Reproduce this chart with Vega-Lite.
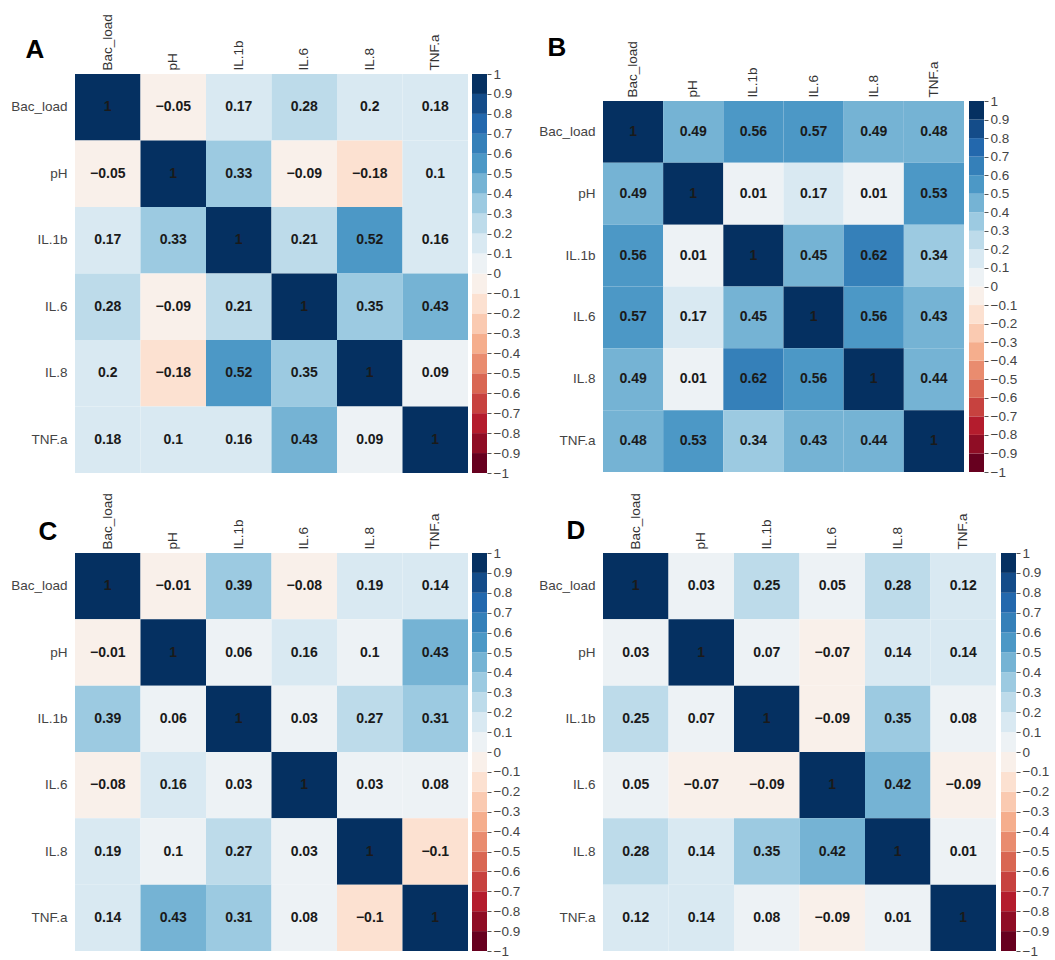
{
  "$schema": "https://vega.github.io/schema/vega-lite/v6.json",
  "background": "white",
  "padding": {"left": 10, "top": 13, "right": 2, "bottom": 0},
  "config": {"view": {"stroke": null}, "font": "Liberation Sans"},
  "datasets": {
    "bins": [
      {"lo": -1, "hi": -0.9}, {"lo": -0.9, "hi": -0.8}, {"lo": -0.8, "hi": -0.7}, {"lo": -0.7, "hi": -0.6},
      {"lo": -0.6, "hi": -0.5}, {"lo": -0.5, "hi": -0.4}, {"lo": -0.4, "hi": -0.3}, {"lo": -0.3, "hi": -0.2},
      {"lo": -0.2, "hi": -0.1}, {"lo": -0.1, "hi": 0}, {"lo": 0, "hi": 0.1}, {"lo": 0.1, "hi": 0.2},
      {"lo": 0.2, "hi": 0.3}, {"lo": 0.3, "hi": 0.4}, {"lo": 0.4, "hi": 0.5}, {"lo": 0.5, "hi": 0.6},
      {"lo": 0.6, "hi": 0.7}, {"lo": 0.7, "hi": 0.8}, {"lo": 0.8, "hi": 0.9}, {"lo": 0.9, "hi": 1}
    ],
    "A": [
      {"row": "Bac_load", "col": "Bac_load", "r": 1}, {"row": "Bac_load", "col": "pH", "r": -0.05}, {"row": "Bac_load", "col": "IL.1b", "r": 0.17}, {"row": "Bac_load", "col": "IL.6", "r": 0.28}, {"row": "Bac_load", "col": "IL.8", "r": 0.196}, {"row": "Bac_load", "col": "TNF.a", "r": 0.18},
      {"row": "pH", "col": "Bac_load", "r": -0.05}, {"row": "pH", "col": "pH", "r": 1}, {"row": "pH", "col": "IL.1b", "r": 0.33}, {"row": "pH", "col": "IL.6", "r": -0.09}, {"row": "pH", "col": "IL.8", "r": -0.18}, {"row": "pH", "col": "TNF.a", "r": 0.1},
      {"row": "IL.1b", "col": "Bac_load", "r": 0.17}, {"row": "IL.1b", "col": "pH", "r": 0.33}, {"row": "IL.1b", "col": "IL.1b", "r": 1}, {"row": "IL.1b", "col": "IL.6", "r": 0.21}, {"row": "IL.1b", "col": "IL.8", "r": 0.52}, {"row": "IL.1b", "col": "TNF.a", "r": 0.16},
      {"row": "IL.6", "col": "Bac_load", "r": 0.28}, {"row": "IL.6", "col": "pH", "r": -0.09}, {"row": "IL.6", "col": "IL.1b", "r": 0.21}, {"row": "IL.6", "col": "IL.6", "r": 1}, {"row": "IL.6", "col": "IL.8", "r": 0.35}, {"row": "IL.6", "col": "TNF.a", "r": 0.43},
      {"row": "IL.8", "col": "Bac_load", "r": 0.196}, {"row": "IL.8", "col": "pH", "r": -0.18}, {"row": "IL.8", "col": "IL.1b", "r": 0.52}, {"row": "IL.8", "col": "IL.6", "r": 0.35}, {"row": "IL.8", "col": "IL.8", "r": 1}, {"row": "IL.8", "col": "TNF.a", "r": 0.09},
      {"row": "TNF.a", "col": "Bac_load", "r": 0.18}, {"row": "TNF.a", "col": "pH", "r": 0.1}, {"row": "TNF.a", "col": "IL.1b", "r": 0.16}, {"row": "TNF.a", "col": "IL.6", "r": 0.43}, {"row": "TNF.a", "col": "IL.8", "r": 0.09}, {"row": "TNF.a", "col": "TNF.a", "r": 1}
    ],
    "B": [
      {"row": "Bac_load", "col": "Bac_load", "r": 1}, {"row": "Bac_load", "col": "pH", "r": 0.49}, {"row": "Bac_load", "col": "IL.1b", "r": 0.56}, {"row": "Bac_load", "col": "IL.6", "r": 0.57}, {"row": "Bac_load", "col": "IL.8", "r": 0.49}, {"row": "Bac_load", "col": "TNF.a", "r": 0.48},
      {"row": "pH", "col": "Bac_load", "r": 0.49}, {"row": "pH", "col": "pH", "r": 1}, {"row": "pH", "col": "IL.1b", "r": 0.01}, {"row": "pH", "col": "IL.6", "r": 0.17}, {"row": "pH", "col": "IL.8", "r": 0.01}, {"row": "pH", "col": "TNF.a", "r": 0.53},
      {"row": "IL.1b", "col": "Bac_load", "r": 0.56}, {"row": "IL.1b", "col": "pH", "r": 0.01}, {"row": "IL.1b", "col": "IL.1b", "r": 1}, {"row": "IL.1b", "col": "IL.6", "r": 0.45}, {"row": "IL.1b", "col": "IL.8", "r": 0.62}, {"row": "IL.1b", "col": "TNF.a", "r": 0.34},
      {"row": "IL.6", "col": "Bac_load", "r": 0.57}, {"row": "IL.6", "col": "pH", "r": 0.17}, {"row": "IL.6", "col": "IL.1b", "r": 0.45}, {"row": "IL.6", "col": "IL.6", "r": 1}, {"row": "IL.6", "col": "IL.8", "r": 0.56}, {"row": "IL.6", "col": "TNF.a", "r": 0.43},
      {"row": "IL.8", "col": "Bac_load", "r": 0.49}, {"row": "IL.8", "col": "pH", "r": 0.01}, {"row": "IL.8", "col": "IL.1b", "r": 0.62}, {"row": "IL.8", "col": "IL.6", "r": 0.56}, {"row": "IL.8", "col": "IL.8", "r": 1}, {"row": "IL.8", "col": "TNF.a", "r": 0.44},
      {"row": "TNF.a", "col": "Bac_load", "r": 0.48}, {"row": "TNF.a", "col": "pH", "r": 0.53}, {"row": "TNF.a", "col": "IL.1b", "r": 0.34}, {"row": "TNF.a", "col": "IL.6", "r": 0.43}, {"row": "TNF.a", "col": "IL.8", "r": 0.44}, {"row": "TNF.a", "col": "TNF.a", "r": 1}
    ],
    "C": [
      {"row": "Bac_load", "col": "Bac_load", "r": 1}, {"row": "Bac_load", "col": "pH", "r": -0.01}, {"row": "Bac_load", "col": "IL.1b", "r": 0.39}, {"row": "Bac_load", "col": "IL.6", "r": -0.08}, {"row": "Bac_load", "col": "IL.8", "r": 0.19}, {"row": "Bac_load", "col": "TNF.a", "r": 0.14},
      {"row": "pH", "col": "Bac_load", "r": -0.01}, {"row": "pH", "col": "pH", "r": 1}, {"row": "pH", "col": "IL.1b", "r": 0.06}, {"row": "pH", "col": "IL.6", "r": 0.16}, {"row": "pH", "col": "IL.8", "r": 0.097}, {"row": "pH", "col": "TNF.a", "r": 0.43},
      {"row": "IL.1b", "col": "Bac_load", "r": 0.39}, {"row": "IL.1b", "col": "pH", "r": 0.06}, {"row": "IL.1b", "col": "IL.1b", "r": 1}, {"row": "IL.1b", "col": "IL.6", "r": 0.03}, {"row": "IL.1b", "col": "IL.8", "r": 0.27}, {"row": "IL.1b", "col": "TNF.a", "r": 0.31},
      {"row": "IL.6", "col": "Bac_load", "r": -0.08}, {"row": "IL.6", "col": "pH", "r": 0.16}, {"row": "IL.6", "col": "IL.1b", "r": 0.03}, {"row": "IL.6", "col": "IL.6", "r": 1}, {"row": "IL.6", "col": "IL.8", "r": 0.03}, {"row": "IL.6", "col": "TNF.a", "r": 0.08},
      {"row": "IL.8", "col": "Bac_load", "r": 0.19}, {"row": "IL.8", "col": "pH", "r": 0.097}, {"row": "IL.8", "col": "IL.1b", "r": 0.27}, {"row": "IL.8", "col": "IL.6", "r": 0.03}, {"row": "IL.8", "col": "IL.8", "r": 1}, {"row": "IL.8", "col": "TNF.a", "r": -0.104},
      {"row": "TNF.a", "col": "Bac_load", "r": 0.14}, {"row": "TNF.a", "col": "pH", "r": 0.43}, {"row": "TNF.a", "col": "IL.1b", "r": 0.31}, {"row": "TNF.a", "col": "IL.6", "r": 0.08}, {"row": "TNF.a", "col": "IL.8", "r": -0.104}, {"row": "TNF.a", "col": "TNF.a", "r": 1}
    ],
    "D": [
      {"row": "Bac_load", "col": "Bac_load", "r": 1}, {"row": "Bac_load", "col": "pH", "r": 0.03}, {"row": "Bac_load", "col": "IL.1b", "r": 0.25}, {"row": "Bac_load", "col": "IL.6", "r": 0.05}, {"row": "Bac_load", "col": "IL.8", "r": 0.28}, {"row": "Bac_load", "col": "TNF.a", "r": 0.12},
      {"row": "pH", "col": "Bac_load", "r": 0.03}, {"row": "pH", "col": "pH", "r": 1}, {"row": "pH", "col": "IL.1b", "r": 0.07}, {"row": "pH", "col": "IL.6", "r": -0.07}, {"row": "pH", "col": "IL.8", "r": 0.14}, {"row": "pH", "col": "TNF.a", "r": 0.14},
      {"row": "IL.1b", "col": "Bac_load", "r": 0.25}, {"row": "IL.1b", "col": "pH", "r": 0.07}, {"row": "IL.1b", "col": "IL.1b", "r": 1}, {"row": "IL.1b", "col": "IL.6", "r": -0.09}, {"row": "IL.1b", "col": "IL.8", "r": 0.35}, {"row": "IL.1b", "col": "TNF.a", "r": 0.08},
      {"row": "IL.6", "col": "Bac_load", "r": 0.05}, {"row": "IL.6", "col": "pH", "r": -0.07}, {"row": "IL.6", "col": "IL.1b", "r": -0.09}, {"row": "IL.6", "col": "IL.6", "r": 1}, {"row": "IL.6", "col": "IL.8", "r": 0.42}, {"row": "IL.6", "col": "TNF.a", "r": -0.09},
      {"row": "IL.8", "col": "Bac_load", "r": 0.28}, {"row": "IL.8", "col": "pH", "r": 0.14}, {"row": "IL.8", "col": "IL.1b", "r": 0.35}, {"row": "IL.8", "col": "IL.6", "r": 0.42}, {"row": "IL.8", "col": "IL.8", "r": 1}, {"row": "IL.8", "col": "TNF.a", "r": 0.01},
      {"row": "TNF.a", "col": "Bac_load", "r": 0.12}, {"row": "TNF.a", "col": "pH", "r": 0.14}, {"row": "TNF.a", "col": "IL.1b", "r": 0.08}, {"row": "TNF.a", "col": "IL.6", "r": -0.09}, {"row": "TNF.a", "col": "IL.8", "r": 0.01}, {"row": "TNF.a", "col": "TNF.a", "r": 1}
    ]
  },
  "columns": 2,
  "bounds": "flush",
  "align": "all",
  "spacing": {"row": 80, "column": 135},
  "concat": [
    {
      "width": 393, "height": 399,
      "layer": [
        {
          "data": {"name": "A"},
          "encoding": {
            "x": {"field": "col", "type": "nominal", "sort": ["Bac_load", "pH", "IL.1b", "IL.6", "IL.8", "TNF.a"], "scale": {"paddingInner": 0, "paddingOuter": 0},
              "axis": {"orient": "top", "title": null, "labelAngle": -90, "labelAlign": "left", "labelBaseline": "middle", "labelPadding": 4, "ticks": false, "domain": false, "labelFontSize": 13.5, "labelColor": "#333", "labelFont": "Liberation Sans"}},
            "y": {"field": "row", "type": "nominal", "sort": ["Bac_load", "pH", "IL.1b", "IL.6", "IL.8", "TNF.a"], "scale": {"paddingInner": 0, "paddingOuter": 0},
              "axis": {"orient": "left", "title": "A", "titleAngle": 0, "titleX": -50, "titleY": -17, "titleAlign": "left", "titleBaseline": "alphabetic", "titleFontSize": 26, "titleFontWeight": "bold", "titleColor": "#000", "titleFont": "Liberation Sans", "labelPadding": 8, "ticks": false, "domain": false, "labelFontSize": 13.5, "labelColor": "#444", "labelFont": "Liberation Sans"}}
          },
          "layer": [
            {"mark": {"type": "rect"}, "encoding": {"color": {"field": "r", "type": "quantitative", "legend": null,
              "scale": {"type": "threshold", "domain": [-0.9, -0.8, -0.7, -0.6, -0.5, -0.4, -0.3, -0.2, -0.1, 0, 0.1, 0.2, 0.3, 0.4, 0.5, 0.6, 0.7, 0.8, 0.9],
                "range": ["#67001f", "#8f0d25", "#b41c2d", "#c7423f", "#d96753", "#e98c6f", "#f5ae8d", "#facab1", "#fce1d1", "#f9f0ea", "#edf2f5", "#d9e9f2", "#bddbea", "#9ccae1", "#75b3d4", "#4c98c6", "#3580b9", "#2368ad", "#144c89", "#053061"]}}}},
            {"mark": {"type": "text", "font": "Liberation Sans", "fontSize": 14, "fontWeight": "bold", "color": "#1a1a1a"}, "encoding": {"text": {"field": "r", "type": "quantitative", "format": ".2~f"}}}
          ]
        },
        {
          "data": {"name": "bins"},
          "mark": {"type": "rect"},
          "encoding": {
            "x": {"datum": 0, "type": "quantitative", "scale": {"domain": [0, 1], "range": [397, 412]}, "axis": null},
            "x2": {"datum": 1},
            "y": {"field": "lo", "type": "quantitative", "scale": {"domain": [-1, 1], "range": [399, 0]},
              "axis": {"orient": "right", "offset": 19, "title": null, "values": [-1, -0.9, -0.8, -0.7, -0.6, -0.5, -0.4, -0.3, -0.2, -0.1, 0, 0.1, 0.2, 0.3, 0.4, 0.5, 0.6, 0.7, 0.8, 0.9, 1], "format": ".1~f", "labelOverlap": false, "labelFlush": false, "domain": false, "grid": false, "tickSize": 4, "tickColor": "#555", "labelPadding": 2, "labelFontSize": 13.5, "labelColor": "#444", "labelFont": "Liberation Sans"}},
            "y2": {"field": "hi"},
            "color": {"field": "lo", "type": "quantitative", "legend": null,
              "scale": {"type": "threshold", "domain": [-0.9, -0.8, -0.7, -0.6, -0.5, -0.4, -0.3, -0.2, -0.1, 0, 0.1, 0.2, 0.3, 0.4, 0.5, 0.6, 0.7, 0.8, 0.9],
                "range": ["#67001f", "#8f0d25", "#b41c2d", "#c7423f", "#d96753", "#e98c6f", "#f5ae8d", "#facab1", "#fce1d1", "#f9f0ea", "#edf2f5", "#d9e9f2", "#bddbea", "#9ccae1", "#75b3d4", "#4c98c6", "#3580b9", "#2368ad", "#144c89", "#053061"]}}
          }
        }
      ],
      "resolve": {"scale": {"x": "independent", "y": "independent"}, "axis": {"x": "independent", "y": "independent"}}
    },
    {
      "width": 361, "height": 399,
      "layer": [
        {
          "data": {"name": "B"},
          "encoding": {
            "x": {"field": "col", "type": "nominal", "sort": ["Bac_load", "pH", "IL.1b", "IL.6", "IL.8", "TNF.a"], "scale": {"paddingInner": 0, "paddingOuter": 0},
              "axis": {"orient": "top", "offset": -27, "title": null, "labelAngle": -90, "labelAlign": "left", "labelBaseline": "middle", "labelPadding": 4, "ticks": false, "domain": false, "labelFontSize": 13.5, "labelColor": "#333", "labelFont": "Liberation Sans"}},
            "y": {"field": "row", "type": "nominal", "sort": ["Bac_load", "pH", "IL.1b", "IL.6", "IL.8", "TNF.a"], "scale": {"range": [27, 398], "paddingInner": 0, "paddingOuter": 0},
              "axis": {"orient": "left", "title": "B", "titleAngle": 0, "titleX": -56, "titleY": -19, "titleAlign": "left", "titleBaseline": "alphabetic", "titleFontSize": 26, "titleFontWeight": "bold", "titleColor": "#000", "titleFont": "Liberation Sans", "labelPadding": 8, "ticks": false, "domain": false, "labelFontSize": 13.5, "labelColor": "#444", "labelFont": "Liberation Sans"}}
          },
          "layer": [
            {"mark": {"type": "rect"}, "encoding": {"color": {"field": "r", "type": "quantitative", "legend": null,
              "scale": {"type": "threshold", "domain": [-0.9, -0.8, -0.7, -0.6, -0.5, -0.4, -0.3, -0.2, -0.1, 0, 0.1, 0.2, 0.3, 0.4, 0.5, 0.6, 0.7, 0.8, 0.9],
                "range": ["#67001f", "#8f0d25", "#b41c2d", "#c7423f", "#d96753", "#e98c6f", "#f5ae8d", "#facab1", "#fce1d1", "#f9f0ea", "#edf2f5", "#d9e9f2", "#bddbea", "#9ccae1", "#75b3d4", "#4c98c6", "#3580b9", "#2368ad", "#144c89", "#053061"]}}}},
            {"mark": {"type": "text", "font": "Liberation Sans", "fontSize": 14, "fontWeight": "bold", "color": "#1a1a1a"}, "encoding": {"text": {"field": "r", "type": "quantitative", "format": ".2~f"}}}
          ]
        },
        {
          "data": {"name": "bins"},
          "mark": {"type": "rect"},
          "encoding": {
            "x": {"datum": 0, "type": "quantitative", "scale": {"domain": [0, 1], "range": [366, 381]}, "axis": null},
            "x2": {"datum": 1},
            "y": {"field": "lo", "type": "quantitative", "scale": {"domain": [-1, 1], "range": [398, 27]},
              "axis": {"orient": "right", "offset": 20, "title": null, "values": [-1, -0.9, -0.8, -0.7, -0.6, -0.5, -0.4, -0.3, -0.2, -0.1, 0, 0.1, 0.2, 0.3, 0.4, 0.5, 0.6, 0.7, 0.8, 0.9, 1], "format": ".1~f", "labelOverlap": false, "labelFlush": false, "domain": false, "grid": false, "tickSize": 4, "tickColor": "#555", "labelPadding": 2, "labelFontSize": 13.5, "labelColor": "#444", "labelFont": "Liberation Sans"}},
            "y2": {"field": "hi"},
            "color": {"field": "lo", "type": "quantitative", "legend": null,
              "scale": {"type": "threshold", "domain": [-0.9, -0.8, -0.7, -0.6, -0.5, -0.4, -0.3, -0.2, -0.1, 0, 0.1, 0.2, 0.3, 0.4, 0.5, 0.6, 0.7, 0.8, 0.9],
                "range": ["#67001f", "#8f0d25", "#b41c2d", "#c7423f", "#d96753", "#e98c6f", "#f5ae8d", "#facab1", "#fce1d1", "#f9f0ea", "#edf2f5", "#d9e9f2", "#bddbea", "#9ccae1", "#75b3d4", "#4c98c6", "#3580b9", "#2368ad", "#144c89", "#053061"]}}
          }
        }
      ],
      "resolve": {"scale": {"x": "independent", "y": "independent"}, "axis": {"x": "independent", "y": "independent"}}
    },
    {
      "width": 393, "height": 398,
      "layer": [
        {
          "data": {"name": "C"},
          "encoding": {
            "x": {"field": "col", "type": "nominal", "sort": ["Bac_load", "pH", "IL.1b", "IL.6", "IL.8", "TNF.a"], "scale": {"paddingInner": 0, "paddingOuter": 0},
              "axis": {"orient": "top", "title": null, "labelAngle": -90, "labelAlign": "left", "labelBaseline": "middle", "labelPadding": 4, "ticks": false, "domain": false, "labelFontSize": 13.5, "labelColor": "#333", "labelFont": "Liberation Sans"}},
            "y": {"field": "row", "type": "nominal", "sort": ["Bac_load", "pH", "IL.1b", "IL.6", "IL.8", "TNF.a"], "scale": {"paddingInner": 0, "paddingOuter": 0},
              "axis": {"orient": "left", "title": "C", "titleAngle": 0, "titleX": -37, "titleY": -14, "titleAlign": "left", "titleBaseline": "alphabetic", "titleFontSize": 26, "titleFontWeight": "bold", "titleColor": "#000", "titleFont": "Liberation Sans", "labelPadding": 8, "ticks": false, "domain": false, "labelFontSize": 13.5, "labelColor": "#444", "labelFont": "Liberation Sans"}}
          },
          "layer": [
            {"mark": {"type": "rect"}, "encoding": {"color": {"field": "r", "type": "quantitative", "legend": null,
              "scale": {"type": "threshold", "domain": [-0.9, -0.8, -0.7, -0.6, -0.5, -0.4, -0.3, -0.2, -0.1, 0, 0.1, 0.2, 0.3, 0.4, 0.5, 0.6, 0.7, 0.8, 0.9],
                "range": ["#67001f", "#8f0d25", "#b41c2d", "#c7423f", "#d96753", "#e98c6f", "#f5ae8d", "#facab1", "#fce1d1", "#f9f0ea", "#edf2f5", "#d9e9f2", "#bddbea", "#9ccae1", "#75b3d4", "#4c98c6", "#3580b9", "#2368ad", "#144c89", "#053061"]}}}},
            {"mark": {"type": "text", "font": "Liberation Sans", "fontSize": 14, "fontWeight": "bold", "color": "#1a1a1a"}, "encoding": {"text": {"field": "r", "type": "quantitative", "format": ".2~f"}}}
          ]
        },
        {
          "data": {"name": "bins"},
          "mark": {"type": "rect"},
          "encoding": {
            "x": {"datum": 0, "type": "quantitative", "scale": {"domain": [0, 1], "range": [397, 412]}, "axis": null},
            "x2": {"datum": 1},
            "y": {"field": "lo", "type": "quantitative", "scale": {"domain": [-1, 1], "range": [398, 0]},
              "axis": {"orient": "right", "offset": 19, "title": null, "values": [-1, -0.9, -0.8, -0.7, -0.6, -0.5, -0.4, -0.3, -0.2, -0.1, 0, 0.1, 0.2, 0.3, 0.4, 0.5, 0.6, 0.7, 0.8, 0.9, 1], "format": ".1~f", "labelOverlap": false, "labelFlush": false, "domain": false, "grid": false, "tickSize": 4, "tickColor": "#555", "labelPadding": 2, "labelFontSize": 13.5, "labelColor": "#444", "labelFont": "Liberation Sans"}},
            "y2": {"field": "hi"},
            "color": {"field": "lo", "type": "quantitative", "legend": null,
              "scale": {"type": "threshold", "domain": [-0.9, -0.8, -0.7, -0.6, -0.5, -0.4, -0.3, -0.2, -0.1, 0, 0.1, 0.2, 0.3, 0.4, 0.5, 0.6, 0.7, 0.8, 0.9],
                "range": ["#67001f", "#8f0d25", "#b41c2d", "#c7423f", "#d96753", "#e98c6f", "#f5ae8d", "#facab1", "#fce1d1", "#f9f0ea", "#edf2f5", "#d9e9f2", "#bddbea", "#9ccae1", "#75b3d4", "#4c98c6", "#3580b9", "#2368ad", "#144c89", "#053061"]}}
          }
        }
      ],
      "resolve": {"scale": {"x": "independent", "y": "independent"}, "axis": {"x": "independent", "y": "independent"}}
    },
    {
      "width": 393, "height": 398,
      "layer": [
        {
          "data": {"name": "D"},
          "encoding": {
            "x": {"field": "col", "type": "nominal", "sort": ["Bac_load", "pH", "IL.1b", "IL.6", "IL.8", "TNF.a"], "scale": {"paddingInner": 0, "paddingOuter": 0},
              "axis": {"orient": "top", "title": null, "labelAngle": -90, "labelAlign": "left", "labelBaseline": "middle", "labelPadding": 4, "ticks": false, "domain": false, "labelFontSize": 13.5, "labelColor": "#333", "labelFont": "Liberation Sans"}},
            "y": {"field": "row", "type": "nominal", "sort": ["Bac_load", "pH", "IL.1b", "IL.6", "IL.8", "TNF.a"], "scale": {"paddingInner": 0, "paddingOuter": 0},
              "axis": {"orient": "left", "title": "D", "titleAngle": 0, "titleX": -37, "titleY": -15, "titleAlign": "left", "titleBaseline": "alphabetic", "titleFontSize": 26, "titleFontWeight": "bold", "titleColor": "#000", "titleFont": "Liberation Sans", "labelPadding": 8, "ticks": false, "domain": false, "labelFontSize": 13.5, "labelColor": "#444", "labelFont": "Liberation Sans"}}
          },
          "layer": [
            {"mark": {"type": "rect"}, "encoding": {"color": {"field": "r", "type": "quantitative", "legend": null,
              "scale": {"type": "threshold", "domain": [-0.9, -0.8, -0.7, -0.6, -0.5, -0.4, -0.3, -0.2, -0.1, 0, 0.1, 0.2, 0.3, 0.4, 0.5, 0.6, 0.7, 0.8, 0.9],
                "range": ["#67001f", "#8f0d25", "#b41c2d", "#c7423f", "#d96753", "#e98c6f", "#f5ae8d", "#facab1", "#fce1d1", "#f9f0ea", "#edf2f5", "#d9e9f2", "#bddbea", "#9ccae1", "#75b3d4", "#4c98c6", "#3580b9", "#2368ad", "#144c89", "#053061"]}}}},
            {"mark": {"type": "text", "font": "Liberation Sans", "fontSize": 14, "fontWeight": "bold", "color": "#1a1a1a"}, "encoding": {"text": {"field": "r", "type": "quantitative", "format": ".2~f"}}}
          ]
        },
        {
          "data": {"name": "bins"},
          "mark": {"type": "rect"},
          "encoding": {
            "x": {"datum": 0, "type": "quantitative", "scale": {"domain": [0, 1], "range": [398, 413]}, "axis": null},
            "x2": {"datum": 1},
            "y": {"field": "lo", "type": "quantitative", "scale": {"domain": [-1, 1], "range": [398, 0]},
              "axis": {"orient": "right", "offset": 20, "title": null, "values": [-1, -0.9, -0.8, -0.7, -0.6, -0.5, -0.4, -0.3, -0.2, -0.1, 0, 0.1, 0.2, 0.3, 0.4, 0.5, 0.6, 0.7, 0.8, 0.9, 1], "format": ".1~f", "labelOverlap": false, "labelFlush": false, "domain": false, "grid": false, "tickSize": 4, "tickColor": "#555", "labelPadding": 2, "labelFontSize": 13.5, "labelColor": "#444", "labelFont": "Liberation Sans"}},
            "y2": {"field": "hi"},
            "color": {"field": "lo", "type": "quantitative", "legend": null,
              "scale": {"type": "threshold", "domain": [-0.9, -0.8, -0.7, -0.6, -0.5, -0.4, -0.3, -0.2, -0.1, 0, 0.1, 0.2, 0.3, 0.4, 0.5, 0.6, 0.7, 0.8, 0.9],
                "range": ["#67001f", "#8f0d25", "#b41c2d", "#c7423f", "#d96753", "#e98c6f", "#f5ae8d", "#facab1", "#fce1d1", "#f9f0ea", "#edf2f5", "#d9e9f2", "#bddbea", "#9ccae1", "#75b3d4", "#4c98c6", "#3580b9", "#2368ad", "#144c89", "#053061"]}}
          }
        }
      ],
      "resolve": {"scale": {"x": "independent", "y": "independent"}, "axis": {"x": "independent", "y": "independent"}}
    }
  ]
}
